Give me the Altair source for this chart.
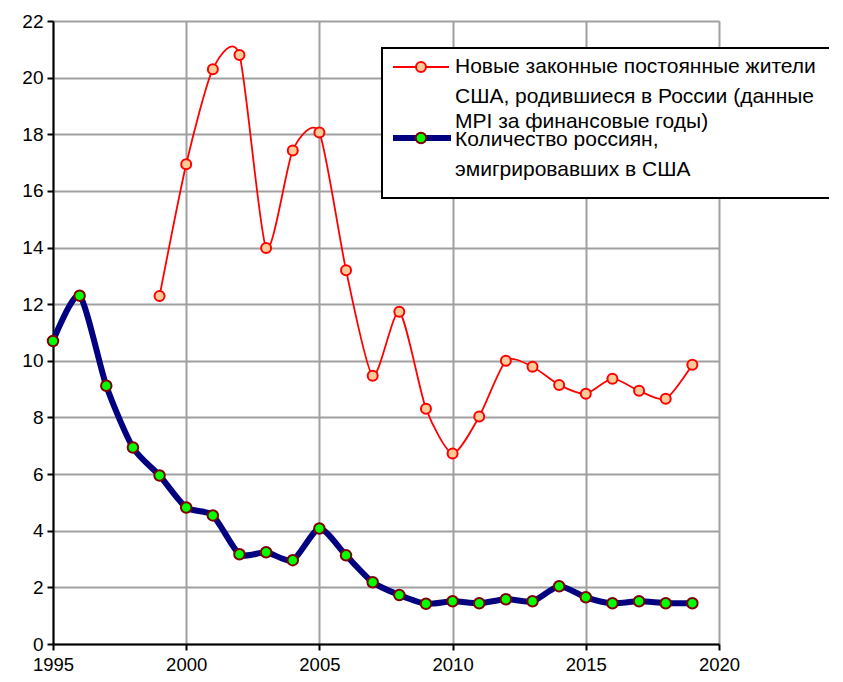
import altair as alt
import pandas as pd

years_blue = list(range(1995, 2020))
emigrated = [10.7, 12.3, 9.12, 6.94, 5.95, 4.82, 4.54, 3.17, 3.24, 2.96, 4.08, 3.13,
             2.18, 1.73, 1.42, 1.51, 1.44, 1.58, 1.51, 2.04, 1.65, 1.44, 1.51, 1.44, 1.44]

years_red = list(range(1999, 2020))
residents = [12.29, 16.94, 20.3, 20.8, 13.98, 17.43, 18.06, 13.2, 9.47, 11.73, 8.31,
             6.73, 8.03, 10.0, 9.79, 9.15, 8.84, 9.37, 8.94, 8.66, 9.86]

legend_lines = [
    "Новые законные постоянные жители",
    "США, родившиеся в России (данные",
    "MPI за финансовые годы)",
    "Количество россиян,",
    "эмигрировавших в США",
]
x_ticks = [1995, 2000, 2005, 2010, 2015, 2020]
y_ticks = list(range(0, 23, 2))

FONT = "Liberation Sans"
TENSION = 0.3

blue_df = pd.DataFrame({"year": years_blue, "value": emigrated})
red_df = pd.DataFrame({"year": years_red, "value": residents})

x = alt.X("year:Q", scale=alt.Scale(domain=[1995, 2020], nice=False, zero=False),
          axis=alt.Axis(values=x_ticks, format="d", title=None, labelFontSize=18.5,
                        labelFont=FONT, labelColor="black", domainColor="black",
                        domainWidth=2, tickColor="black", tickWidth=2, tickSize=6,
                        gridColor="#a0a0a0", gridWidth=2, labelPadding=20,
                        labelBaseline="alphabetic", labelFlush=False))
y = alt.Y("value:Q", scale=alt.Scale(domain=[0, 22], nice=False),
          axis=alt.Axis(values=y_ticks, title=None, labelFontSize=19, labelFont=FONT,
                        labelColor="black", domainColor="black", domainWidth=2,
                        tickColor="black", tickWidth=2, tickSize=6,
                        gridColor="#a0a0a0", gridWidth=2, labelPadding=4))

red_line = alt.Chart(red_df).mark_line(color="#ff0000", strokeWidth=1.8,
                                       interpolate="cardinal", tension=TENSION).encode(x=x, y=y)
red_pts = alt.Chart(red_df).mark_point(filled=True, fill="#ffcc99", stroke="#ff0000",
                                       strokeWidth=2, size=100, opacity=1,
                                       shape="circle").encode(x=x, y=y)
blue_line = alt.Chart(blue_df).mark_line(color="#000080", strokeWidth=6,
                                         interpolate="cardinal", tension=TENSION).encode(x=x, y=y)
blue_pts = alt.Chart(blue_df).mark_point(filled=True, fill="#00ff00", stroke="#800000",
                                         strokeWidth=2, size=110, opacity=1,
                                         shape="circle").encode(x=x, y=y)

one = pd.DataFrame({"k": [0]})
box = alt.Chart(one).mark_rect(fill="white", stroke="black", strokeWidth=2).encode(
    x=alt.value(329), x2=alt.value(785), y=alt.value(27), y2=alt.value(177))
sym1_line = alt.Chart(one).mark_rule(color="#ff0000", strokeWidth=1.8).encode(
    x=alt.value(340), x2=alt.value(396), y=alt.value(46))
sym1_pt = alt.Chart(one).mark_point(filled=True, fill="#ffcc99", stroke="#ff0000",
                                    strokeWidth=2, size=100, opacity=1,
                                    shape="circle").encode(x=alt.value(368), y=alt.value(46))
sym2_line = alt.Chart(one).mark_rule(color="#000080", strokeWidth=6).encode(
    x=alt.value(340), x2=alt.value(398), y=alt.value(117))
sym2_pt = alt.Chart(one).mark_point(filled=True, fill="#00ff00", stroke="#800000",
                                    strokeWidth=2, size=110, opacity=1,
                                    shape="circle").encode(x=alt.value(368), y=alt.value(117))

text_df = pd.DataFrame({"t": legend_lines, "i": list(range(len(legend_lines)))})
text_df["py"] = [46, 76, 101, 119, 149]
legend_text = alt.Chart(text_df).mark_text(align="left", baseline="middle", font=FONT,
                                           fontSize=21, color="black").encode(
    x=alt.value(402), y=alt.Y("py:Q", scale=None), text="t:N")

chart = alt.layer(red_line, blue_line, red_pts, blue_pts, box, sym1_line, sym2_line,
                  sym1_pt, sym2_pt, legend_text).properties(
    width=666, height=623,
    autosize=alt.AutoSizeParams(type="none"),
    padding={"left": 45, "top": 13, "right": 110, "bottom": 30},
).configure_view(stroke=None).configure(background="white")

chart.save("out.html", embed_options={"renderer": "svg", "actions": False})
